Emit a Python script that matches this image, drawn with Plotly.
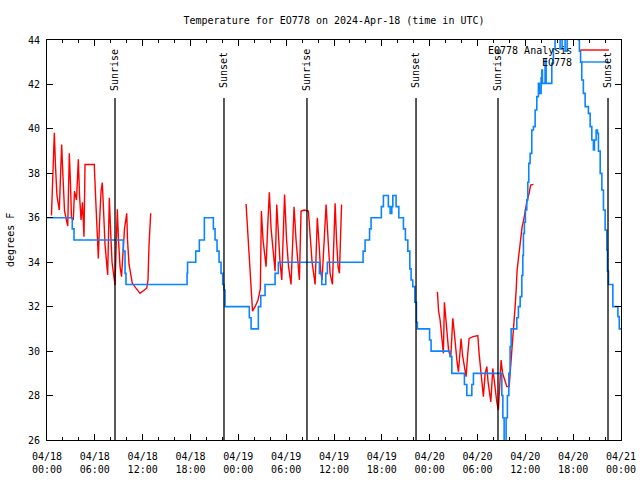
import pandas as pd
import plotly.graph_objects as go

# ---------------- data ----------------
start_time = "2024-04-18 00:00"
span_hours = 72

# EO778 observations (hours since start, degrees F) - step series
blue_hours = [0.00, 3.17, 3.39, 9.57, 9.79, 9.91, 17.57, 17.63, 18.66, 19.11,
              19.74, 20.87, 21.08, 21.33, 21.58, 21.83, 22.04, 22.21, 22.33, 25.38,
              25.60, 26.51, 26.81, 27.35, 28.61, 29.02, 34.17, 34.47, 34.97, 35.17,
              39.65, 39.90, 40.46, 40.65, 41.94, 42.20, 42.82, 43.04, 43.25, 43.38,
              43.79, 44.13, 44.71, 44.96, 45.26, 45.51, 45.67, 45.88, 46.14, 46.34,
              46.46, 47.99, 48.18, 50.56, 50.78, 52.36, 52.66, 53.29, 53.49, 57.05,
              57.18, 57.34, 57.59, 57.75, 57.93, 58.09, 58.22, 58.93, 59.13, 59.35,
              59.56, 59.68, 59.76, 59.88, 60.01, 60.18, 60.31, 60.43, 60.60, 60.81,
              61.02, 61.23, 61.44, 61.64, 61.77, 61.98, 62.07, 62.15, 62.48, 62.61,
              63.32, 63.52, 63.73, 64.36, 64.61, 64.99, 65.24, 66.66, 66.78, 66.93,
              67.08, 67.28, 67.50, 67.91, 68.13, 68.34, 68.54, 68.67, 68.88, 69.05,
              69.17, 69.39, 69.60, 69.80, 70.01, 70.22, 70.30, 70.43, 70.98, 71.61,
              71.78, 72.0]
blue_temp = [36.0, 35.5, 35.0, 34.5, 33.5, 33.0, 33.5, 34.0, 34.5, 35.0,
             36.0, 35.5, 35.0, 34.5, 34.0, 33.5, 33.0, 32.75, 32.0, 31.5,
             31.0, 32.0, 32.5, 33.0, 33.5, 34.0, 33.5, 33.0, 33.5, 34.0,
             34.5, 35.0, 35.5, 36.0, 36.5, 37.0, 36.5, 36.2, 36.5, 37.0,
             36.5, 36.0, 35.5, 35.0, 34.5, 33.7, 33.2, 32.9, 32.2, 31.3,
             31.0, 30.5, 30.0, 29.75, 29.0, 28.5, 28.0, 28.5, 29.0, 28.0,
             27.0, 25.8, 27.0, 28.0, 29.0, 30.2, 31.0, 31.5, 32.0, 32.45,
             33.4, 34.3, 35.3, 35.8, 36.35, 36.8, 37.6, 38.45, 38.9, 39.95,
             40.1, 40.85, 41.45, 42.05, 41.6, 42.3, 42.65, 42.05, 43.1, 42.05,
             42.95, 43.6, 44.5, 43.6, 44.5, 43.5, 44.5, 44.0, 43.5, 43.0,
             42.2, 41.6, 41.0, 40.7, 40.1, 39.5, 39.05, 39.5, 39.95, 39.8,
             39.0, 38.0, 37.25, 36.35, 35.45, 34.55, 33.6, 33.0, 32.0, 31.55,
             31.0, 31.0]

# EO778 Analysis (three separate runs)
red1_hours = [0.56, 0.69, 0.92, 1.07, 1.25, 1.54, 1.69, 1.84, 2.01, 2.20,
              2.60, 2.70, 2.80, 2.95, 3.07, 3.30, 3.45, 3.70, 3.93, 4.08,
              4.27, 4.45, 4.64, 4.77, 5.93, 6.09, 6.27, 6.44, 6.59, 6.78,
              6.94, 7.09, 7.28, 7.61, 7.71, 7.82, 7.97, 8.16, 8.53, 8.66,
              8.82, 8.97, 9.16, 9.35, 9.54, 9.72, 10.00, 10.10, 10.29, 10.70,
              11.66, 12.51, 12.67, 12.80, 13.01]
red1_temp = [36.1, 37.8, 39.83, 38.3, 37.0, 36.35, 38.0, 39.3, 37.8, 36.3,
             35.63, 37.5, 38.9, 37.5, 36.0, 35.9, 37.2, 36.8, 38.63, 37.0,
             35.9, 36.7, 35.15, 38.4, 38.4, 37.0, 35.5, 34.17, 35.8, 37.2,
             37.58, 36.0, 34.8, 33.43, 35.0, 36.9, 35.5, 34.0, 32.97, 35.0,
             36.38, 35.0, 33.8, 33.35, 34.5, 35.5, 36.2, 35.0, 33.9, 33.05,
             32.6, 32.83, 33.2, 34.8, 36.2]

red2_hours = [24.97, 25.22, 25.47, 25.78, 26.10, 26.47, 26.76, 26.89, 27.10, 27.29,
              27.48, 27.67, 27.89, 28.11, 28.36, 28.61, 28.82, 29.05, 29.23, 29.45,
              29.61, 29.80, 30.05, 30.30, 30.61, 30.80, 30.99, 31.24, 31.43, 31.66,
              31.87, 32.25, 32.79, 33.00, 33.25, 33.63, 33.91, 34.13, 34.32, 34.50,
              34.76, 35.01, 35.26, 35.51, 35.80, 35.95, 36.14, 36.32, 36.51, 36.68,
              36.83, 36.95]
red2_temp = [36.62, 35.0, 33.2, 31.8, 32.0, 32.3, 32.8, 36.3, 35.0, 34.5,
             33.8, 35.5, 37.15, 35.5, 34.4, 33.6, 36.6, 35.0, 34.0, 33.2,
             35.5, 37.05, 35.0, 33.8, 33.0, 35.0, 36.5, 35.0, 34.0, 33.2,
             36.3, 36.35, 36.3, 35.0, 34.0, 33.0, 36.0, 34.8, 33.6, 33.2,
             35.0, 36.6, 35.0, 33.5, 33.0, 35.0, 36.65, 35.0, 33.8, 33.5,
             35.5, 36.6]

red3_hours = [48.97, 49.12, 49.31, 49.50, 49.72, 49.85, 50.00, 50.19, 50.38, 50.65,
              50.90, 51.07, 51.25, 51.44, 51.61, 51.94, 52.13, 52.32, 52.57, 52.76,
              52.95, 53.45, 54.04, 54.20, 54.39, 54.58, 54.74, 54.96, 55.17, 55.33,
              55.52, 55.67, 55.92, 56.15, 56.42, 56.62, 56.96, 57.15, 57.34, 57.68,
              57.97, 58.22, 58.41, 58.53, 58.72, 58.85, 58.97, 59.16, 59.28, 59.41,
              59.60, 59.79, 59.97, 60.23, 60.48, 60.66, 61.02]
red3_temp = [32.67, 31.8, 31.4, 30.7, 29.9, 32.2, 31.5, 30.8, 30.0, 29.75,
             31.48, 30.9, 30.0, 29.5, 29.07, 30.57, 29.8, 29.3, 28.85, 29.8,
             30.57, 30.65, 30.7, 29.9, 29.2, 28.5, 27.95, 29.0, 29.3, 28.6,
             28.0, 27.72, 29.22, 28.4, 27.72, 27.35, 29.6, 29.0, 28.8, 28.4,
             28.4, 29.5, 30.5, 31.0, 32.0, 32.75, 33.65, 34.25, 34.7, 35.15,
             35.6, 35.9, 36.27, 36.8, 37.1, 37.47, 37.5]

sunrise_hours = [8.53, 32.61, 56.57]
sunset_hours = [22.20, 46.29, 70.37]

title_text = "Temperature for EO778 on 2024-Apr-18 (time in UTC)"
y_label = "degrees F"
red_name = "EO778 Analysis"
blue_name = "EO778"
y_range = [26, 44]

# ---------------- build ----------------
base = pd.Timestamp(start_time)


def to_time(hours):
    return [base + pd.Timedelta(hours=h) for h in hours]


FONT = "DejaVu Sans Mono"
RED = "#ff0000"
BLUE = "#0a84ff"

red_x, red_y = [], []
for hs, ts in [(red1_hours, red1_temp), (red2_hours, red2_temp), (red3_hours, red3_temp)]:
    red_x += to_time(hs) + [None]
    red_y += list(ts) + [None]

fig = go.Figure()
fig.add_trace(go.Scatter(x=red_x, y=red_y, mode="lines", name=red_name,
                         line=dict(color=RED, width=1.4), connectgaps=False,
                         showlegend=False, hoverinfo="skip"))
fig.add_trace(go.Scatter(x=to_time(blue_hours), y=blue_temp, mode="lines", name=blue_name,
                         line=dict(color=BLUE, width=1.6, shape="hv"),
                         showlegend=False, hoverinfo="skip"))

shapes = []
annotations = []
for label, hrs in [("Sunrise", sunrise_hours), ("Sunset", sunset_hours)]:
    for t in to_time(hrs):
        shapes.append(dict(type="line", xref="x", yref="paper", x0=t, x1=t,
                           y0=0, y1=0.855, line=dict(color="black", width=1.3)))
        annotations.append(dict(x=t, y=0.925, xref="x", yref="paper", text=label,
                                textangle=-90, showarrow=False, xanchor="center",
                                yanchor="middle", font=dict(family=FONT, size=10, color="black")))

# manual gnuplot-style legend (text right, sample line on the right)
for name, color, ypos in [(red_name, RED, 0.975), (blue_name, BLUE, 0.945)]:
    annotations.append(dict(x=0.918, y=ypos, xref="paper", yref="paper", text=name,
                            showarrow=False, xanchor="right", yanchor="middle",
                            font=dict(family=FONT, size=10, color="black")))
    shapes.append(dict(type="line", xref="paper", yref="paper", x0=0.929, x1=0.979,
                       y0=ypos, y1=ypos, line=dict(color=color, width=1.4)))

annotations.append(dict(x=-0.0645, y=0.5, xref="paper", yref="paper", text=y_label,
                        textangle=-90, showarrow=False, xanchor="center", yanchor="middle",
                        font=dict(family=FONT, size=10, color="black")))

fig.update_layout(
    width=640, height=480,
    margin=dict(l=47, r=19, t=40, b=40),
    paper_bgcolor="white", plot_bgcolor="white",
    font=dict(family=FONT, size=10, color="black"),
    title=dict(text=title_text, x=0.5, xref="paper", xanchor="center",
               y=1 - 20 / 480, yref="container", yanchor="middle",
               font=dict(family=FONT, size=10, color="black")),
    shapes=shapes, annotations=annotations,
    showlegend=False, hovermode=False,
)
fig.update_xaxes(
    type="date", range=[base, base + pd.Timedelta(hours=span_hours)],
    tick0=base, dtick=6 * 3600 * 1000, tickformat="%m/%d<br>%H:%M",
    ticks="inside", ticklen=6, tickcolor="black", tickwidth=1,
    showline=True, linecolor="black", linewidth=1, mirror="allticks",
    showgrid=False, zeroline=False, automargin=False,
    ticklabelstandoff=7,
    tickfont=dict(family=FONT, size=10, color="black"),
    minor=dict(dtick=2 * 3600 * 1000, ticks="inside", ticklen=3, tickcolor="black",
               showgrid=False),
)
fig.update_yaxes(
    range=y_range, dtick=2, ticks="inside", ticklen=6, tickcolor="black", tickwidth=1,
    showline=True, linecolor="black", linewidth=1, mirror="allticks",
    showgrid=False, zeroline=False, automargin=False,
    ticklabelstandoff=4,
    tickfont=dict(family=FONT, size=10, color="black"),
)

fig.write_html("out.html", config={"displayModeBar": False, "staticPlot": True},
               post_script="document.body.style.margin='0';document.body.style.padding='0';")
